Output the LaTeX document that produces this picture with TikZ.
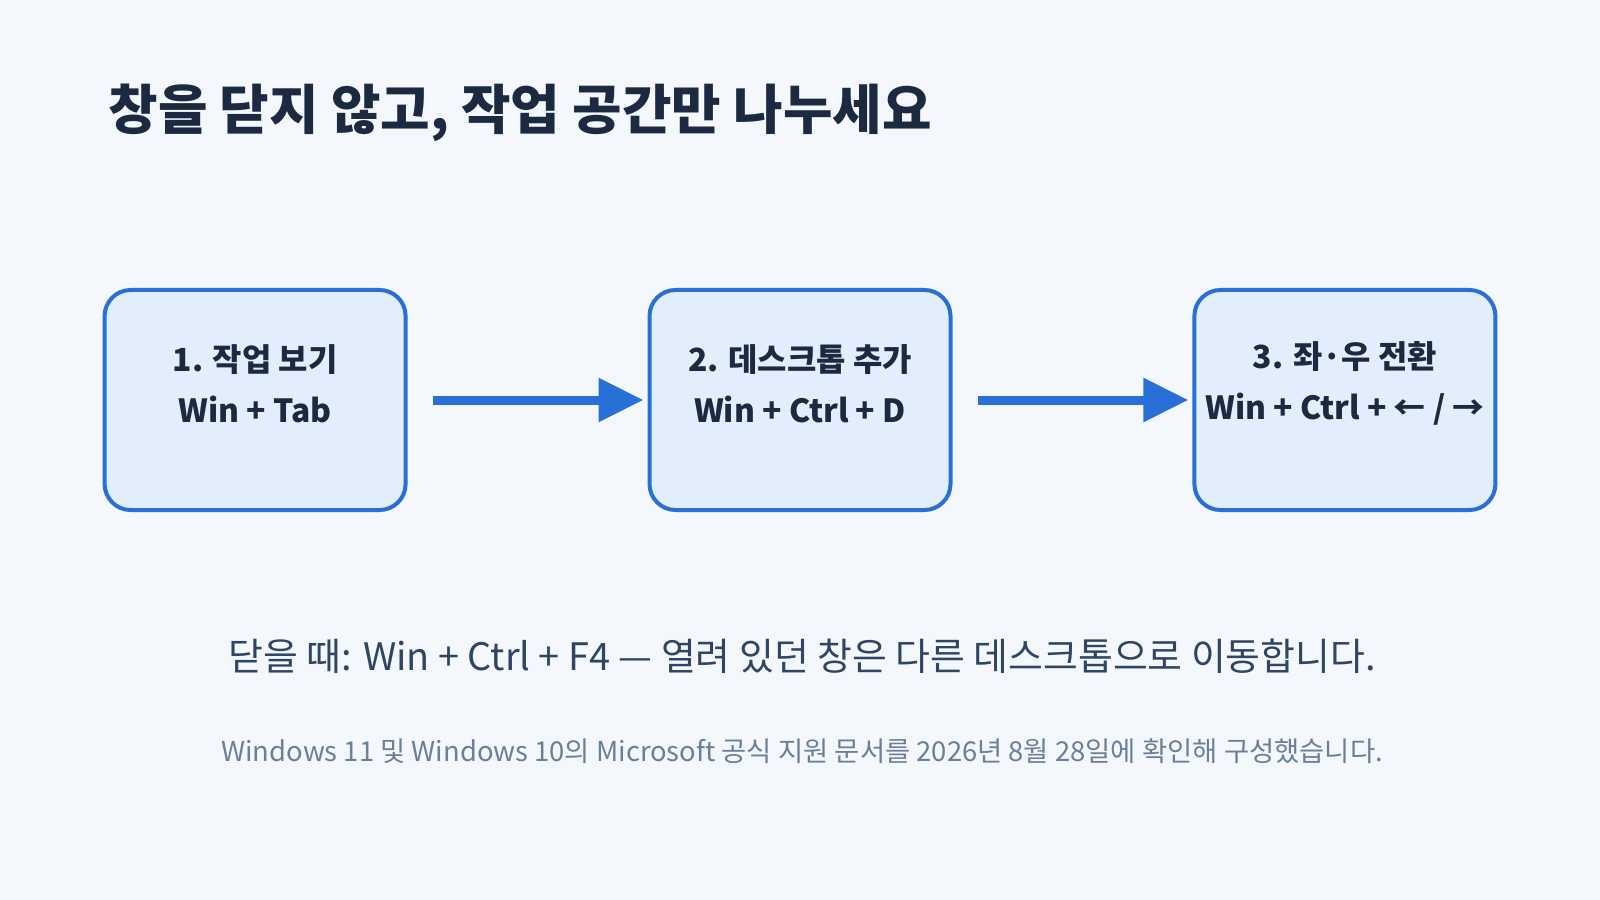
\documentclass[tikz,border=0pt]{standalone}
\usepackage{fontspec}
\setmainfont{Noto Sans CJK KR}
\usetikzlibrary{arrows.meta}
\definecolor{bg}{HTML}{F4F8FD}
\definecolor{title}{HTML}{1B2A41}
\definecolor{blue}{HTML}{2870D6}
\definecolor{boxfill}{HTML}{E3EEFC}
\definecolor{sub}{HTML}{2E4564}
\definecolor{foot}{HTML}{6A7F99}
\begin{document}
\begin{tikzpicture}[x=1.0204bp,y=-1.0204bp,
  box/.style={draw=blue,line width=4bp,fill=boxfill,rounded corners=26bp,minimum width=301bp,minimum height=220bp,inner sep=0},
  lbl/.style={text=title,font=\fontsize{32}{51}\selectfont\bfseries,align=center},
  arr/.style={draw=blue,line width=9bp,-{Triangle[length=45bp,width=42bp]},shorten <=25bp,shorten >=4bp}]
\useasboundingbox[fill=bg] (0,0) rectangle (1568,882);
\node[anchor=west,text=title,font=\fontsize{54}{60}\selectfont\bfseries] (t) at (103,111) {창을 닫지 않고, 작업 공간만 나누세요};
\node[box] (b1) at (250,392) {};
\node[box] (b2) at (784,392) {};
\node[box] (b3) at (1318,392) {};
\node[lbl] (l1) at (250,376) {1. 작업 보기\\Win + Tab};
\node[lbl] (l2) at (784,376) {2. 데스크톱 추가\\Win + Ctrl + D};
\node[lbl] (l3) at (1318,376) {3. 좌·우 전환\\Win + Ctrl + ← / →};
\draw[arr] (b1.east) -- (b2.west);
\draw[arr] (b2.east) -- (b3.west);
\node[text=sub,font=\fontsize{38}{44}\selectfont] (s) at (786,643) {닫을 때: Win + Ctrl + F4 — 열려 있던 창은 다른 데스크톱으로 이동합니다.};
\node[text=foot,font=\fontsize{27.5}{32}\selectfont] (f) at (786,736) {Windows 11 및 Windows 10의 Microsoft 공식 지원 문서를 2026년 8월 28일에 확인해 구성했습니다.};
\end{tikzpicture}
\end{document}
